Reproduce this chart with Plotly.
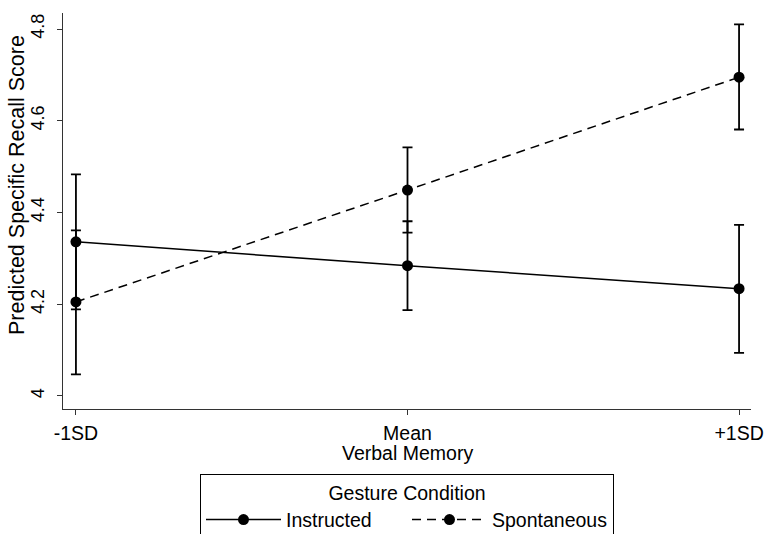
import plotly.graph_objects as go

categories = ["-1SD", "Mean", "+1SD"]
x_pos = [0, 1, 2]

instructed = [4.336, 4.284, 4.234]
instructed_lo = [4.189, 4.187, 4.094]
instructed_hi = [4.483, 4.381, 4.373]

spontaneous = [4.205, 4.449, 4.695]
spontaneous_lo = [4.047, 4.356, 4.581]
spontaneous_hi = [4.361, 4.542, 4.810]

y_ticks = [4, 4.2, 4.4, 4.6, 4.8]
y_ticklabels = ["4", "4.2", "4.4", "4.6", "4.8"]

FONT = "Liberation Sans, Arial, Helvetica, sans-serif"
W, H = 764, 534
ML, MR, MT, MB = 63, 13, 13, 125

def err(vals, lo, hi):
    return dict(
        type="data",
        symmetric=False,
        array=[h - v for v, h in zip(vals, hi)],
        arrayminus=[v - l for v, l in zip(vals, lo)],
        color="black",
        thickness=1.8,
        width=5,
    )

fig = go.Figure()
fig.add_trace(go.Scatter(
    x=x_pos, y=instructed, name="Instructed", mode="lines+markers",
    line=dict(color="black", width=1.5),
    marker=dict(color="black", size=11, symbol="circle"),
    error_y=err(instructed, instructed_lo, instructed_hi),
))
fig.add_trace(go.Scatter(
    x=x_pos, y=spontaneous, name="Spontaneous", mode="lines+markers",
    line=dict(color="black", width=1.5, dash="9px,6px"),
    marker=dict(color="black", size=11, symbol="circle"),
    error_y=err(spontaneous, spontaneous_lo, spontaneous_hi),
))

plot_h = H - MT - MB

fig.update_layout(
    width=W, height=H,
    margin=dict(l=ML, r=MR, t=MT, b=MB, autoexpand=False),
    paper_bgcolor="white", plot_bgcolor="white",
    font=dict(family=FONT, size=19, color="black"),
    showlegend=True,
    legend=dict(
        orientation="h",
        x=0.5, xanchor="center",
        y=-(474 - (H - MB)) / plot_h, yanchor="top",
        bordercolor="black", borderwidth=1,
        bgcolor="white",
        title=dict(text="Gesture Condition", side="top center", font=dict(size=19.5)),
        font=dict(size=19.5),
        itemwidth=75,
        entrywidth=116,
        traceorder="normal",
    ),
    annotations=[
        dict(text="Verbal Memory", xref="paper", yref="paper",
             x=0.5, y=-(453 - (H - MB)) / plot_h, xanchor="center", yanchor="middle",
             showarrow=False, font=dict(size=19.5)),
        dict(text="Predicted Specific Recall Score", xref="paper", yref="paper",
             x=-(ML - 17) / (W - ML - MR), y=(H - MB - 185) / plot_h,
             xanchor="center", yanchor="middle", textangle=-90,
             showarrow=False, font=dict(size=21.5)),
    ],
)

fig.update_xaxes(
    range=[-0.039, 2.036],
    tickmode="array", tickvals=x_pos, ticktext=categories,
    tickfont=dict(size=19.5),
    showgrid=False, zeroline=False,
    showline=True, linecolor="#333", linewidth=1,
    ticks="outside", ticklen=5, tickcolor="#333",
    ticklabelstandoff=2,
    automargin=False,
)
fig.update_yaxes(
    range=[3.9716, 4.835],
    tickmode="array", tickvals=y_ticks, ticktext=y_ticklabels,
    tickangle=-90,
    tickfont=dict(size=18),
    showgrid=False, zeroline=False,
    showline=True, linecolor="#333", linewidth=1,
    ticks="outside", ticklen=5, tickcolor="#333",
    ticklabelstandoff=6,
    automargin=False,
)

fig.write_html("out.html", config={"displayModeBar": False},
               post_script="document.body.style.margin='0';")
